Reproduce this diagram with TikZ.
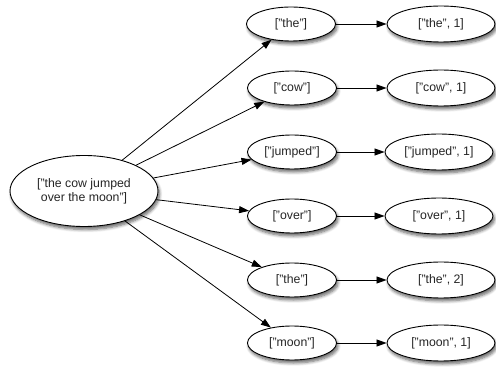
\documentclass[tikz,border=0pt]{standalone}
\usepackage{fontspec}
\setmainfont{Liberation Sans}
\usetikzlibrary{shapes.geometric,arrows.meta,shadows.blur}
\tikzset{
  oval/.style={ellipse, draw=black, line width=0.9pt, fill=white, inner sep=0pt,
    font=\fontsize{12.3}{14}\selectfont, text=black!85,
    blur shadow={shadow xshift=1.5pt, shadow yshift=-3pt, shadow blur steps=6,
      shadow blur radius=3pt, shadow opacity=60}},
  keynode/.style={oval, minimum width=89pt, minimum height=34pt},
  pairnode/.style={oval, minimum width=108pt, minimum height=36pt},
  flow/.style={line width=0.8pt, -{Triangle[length=10pt,width=7pt]}}
}
\begin{document}
\begin{tikzpicture}[x=1pt,y=-1pt]
\useasboundingbox (0,0) rectangle (496,371);
% source sentence
\node[oval, minimum width=148pt, minimum height=71pt, align=center] (src) at (84,191)
  {["the cow jumped\\over the moon"]};
% split words
\node[keynode] (w1) at (291,24)  {["the"]};
\node[keynode] (w2) at (292,88)  {["cow"]};
\node[keynode] (w3) at (292,152) {["jumped"]};
\node[keynode] (w4) at (292,216) {["over"]};
\node[keynode] (w5) at (292,280) {["the"]};
\node[keynode] (w6) at (292,343) {["moon"]};
% word counts
\node[pairnode] (p1) at (441,24)  {["the", 1]};
\node[pairnode] (p2) at (441,88)  {["cow", 1]};
\node[pairnode] (p3) at (439,152) {["jumped", 1]};
\node[pairnode] (p4) at (439,216) {["over", 1]};
\node[pairnode] (p5) at (441,280) {["the", 2]};
\node[pairnode] (p6) at (441,343) {["moon", 1]};
% connectors
\foreach \i in {1,...,6}{
  \draw[flow] (src) -- (w\i);
  \draw[flow] (w\i) -- (p\i);
}
\end{tikzpicture}
\end{document}
